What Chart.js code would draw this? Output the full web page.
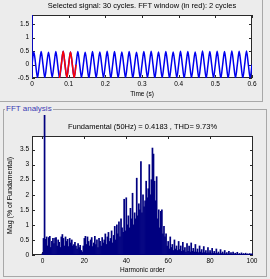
<!DOCTYPE html>
<html lang="en">
<head>
<meta charset="UTF-8">
<title>FFT analysis</title>
<script src="https://cdn.jsdelivr.net/npm/chart.js"></script>
<style>
    body { margin: 0; background: #ececec; font-family: "Liberation Sans", Arial, sans-serif; }
    #page { position: relative; width: 270px; height: 279px; overflow: hidden; }
    #topFrame { position: absolute; left: -2px; top: -2px; width: 263px; height: 102px; border: 1px solid #a8a8a8; }
    #fftFrame { position: absolute; left: 3px; top: 109px; width: 262px; height: 166px; border: 1px solid #a8a8a8; }
    #fftLabel { position: absolute; left: 5px; top: 104px; padding: 0 1px; background: #ececec; color: #3c3cb4; font-size: 8px; line-height: 10px; }
    #signalCanvas { position: absolute; left: 0; top: 0; }
    #fftCanvas { position: absolute; left: 0; top: 110px; }
</style>
</head>
<body>
<div id="page">
    <div id="topFrame"></div>
    <div id="fftFrame"></div>
    <div id="fftLabel">FFT analysis</div>
    <canvas id="signalCanvas" width="270" height="100"></canvas>
    <canvas id="fftCanvas" width="270" height="169"></canvas>
</div>

<script>
    // Signal: 30 cycles of 50 Hz, peak / trough of each cycle
    const cycleTime = 0.02;
    const peakValues = [0.47, 0.48, 0.46, 0.48, 0.49, 0.47, 0.48, 0.46, 0.48, 0.47,
                        0.49, 0.48, 0.47, 0.48, 0.46, 0.48, 0.49, 0.47, 0.48, 0.47,
                        0.49, 0.48, 0.47, 0.50, 0.48, 0.49, 0.48, 0.50, 0.49, 0.50];
    const troughValues = [-0.48, -0.49, -0.47, -0.50, -0.48, -0.49, -0.48, -0.50, -0.49, -0.48,
                          -0.50, -0.49, -0.48, -0.50, -0.49, -0.48, -0.50, -0.49, -0.50, -0.48,
                          -0.50, -0.49, -0.50, -0.50, -0.49, -0.50, -0.50, -0.49, -0.50, -0.50];
    const spikeTime = [0, 0];
    const spikeValue = [-0.5, 1.9];
    const windowStart = 0.075;   // FFT window (red)
    const windowEnd = 0.12;
    const timeTicks = [0, 0.1, 0.2, 0.3, 0.4, 0.5, 0.6];
    const signalTicks = [-0.5, 0, 0.5, 1, 1.5];

    // FFT: magnitude (% of fundamental) every half harmonic, 0 .. 100
    const fftMag = [
        0.05, 0.55, 100, 0.52, 0.60, 0.30, 0.58, 0.62, 0.25, 0.45, 0.55, 0.38, 0.56, 0.58, 0.30, 0.50, 0.42, 0.25, 0.60, 0.68,   // 0-9.5
        0.55, 0.30, 0.60, 0.45, 0.52, 0.28, 0.55, 0.40, 0.50, 0.30, 0.35, 0.42, 0.30, 0.20, 0.38, 0.25, 0.32, 0.15, 0.10, 0.30,   // 10-19.5
        0.55, 0.62, 0.35, 0.60, 0.45, 0.30, 0.50, 0.58, 0.28, 0.40, 0.62, 0.35, 0.50, 0.25, 0.55, 0.45, 0.30, 0.58, 0.40, 0.50,   // 20-29.5
        0.70, 0.35, 0.60, 0.75, 0.45, 0.55, 0.80, 0.40, 0.65, 0.95, 0.50, 1.00, 0.70, 1.10, 0.60, 1.20, 0.90, 0.75, 1.85, 0.80,   // 30-39.5
        1.90, 1.00, 1.30, 0.90, 1.55, 1.20, 2.05, 1.00, 1.40, 1.20, 2.55, 1.30, 1.70, 1.50, 3.10, 1.40, 2.00, 1.60, 1.80, 2.45,   // 40-49.5
        1.90, 2.20, 3.00, 2.00, 2.50, 3.55, 3.35, 2.45, 1.80, 2.60, 1.20, 1.50, 0.90, 1.45, 1.50, 0.70, 0.95, 0.60, 0.70, 0.30,   // 50-59.5
        0.45, 0.20, 0.60, 0.25, 0.35, 0.15, 0.50, 0.20, 0.30, 0.15, 0.45, 0.18, 0.30, 0.12, 0.42, 0.15, 0.25, 0.10, 0.38, 0.12,   // 60-69.5
        0.30, 0.10, 0.40, 0.12, 0.22, 0.10, 0.35, 0.10, 0.20, 0.08, 0.30, 0.10, 0.18, 0.07, 0.28, 0.08, 0.15, 0.06, 0.25, 0.07,   // 70-79.5
        0.15, 0.05, 0.22, 0.06, 0.12, 0.05, 0.20, 0.05, 0.10, 0.04, 0.18, 0.05, 0.10, 0.04, 0.15, 0.04, 0.08, 0.03, 0.12, 0.04,   // 80-89.5
        0.08, 0.03, 0.10, 0.03, 0.06, 0.03, 0.09, 0.02, 0.05, 0.02, 0.07, 0.02, 0.05, 0.02, 0.06, 0.02, 0.04, 0.02, 0.05, 0.02,   // 90-99.5
        0.04                                                                                                                      // 100
    ];
    const harmonicStep = 0.5;
    const harmonicTicks = [0, 20, 40, 60, 80, 100];
    const magTicks = [0, 0.5, 1, 1.5, 2, 2.5, 3, 3.5];

    const fontFamily = '"Liberation Sans", Arial, sans-serif';
    const tickFont = { family: fontFamily, size: 6.5 };
    const titleFont = { family: fontFamily, size: 7.5, weight: 'normal' };
    const noGrid = { display: false, drawTicks: false, tickLength: 0 };

    // white axes box with MATLAB style inward ticks
    const matlabAxes = {
        id: 'matlabAxes',
        beforeDraw(chart) {
            const a = chart.chartArea, c = chart.ctx;
            c.save();
            c.fillStyle = '#ffffff';
            c.fillRect(a.left, a.top, a.right - a.left, a.bottom - a.top);
            c.restore();
        },
        beforeDatasetsDraw(chart) {
            const a = chart.chartArea, c = chart.ctx;
            const xs = chart.scales.x, ys = chart.scales.y;
            c.save();
            c.strokeStyle = '#2a2a2a';
            c.lineWidth = 1;
            c.strokeRect(Math.round(a.left) + 0.5, Math.round(a.top) + 0.5,
                         Math.round(a.right - a.left) - 1, Math.round(a.bottom - a.top) - 1);
            c.beginPath();
            xs.ticks.forEach((t, i) => {
                const px = Math.round(xs.getPixelForTick(i)) + 0.5;
                c.moveTo(px, a.bottom); c.lineTo(px, a.bottom - 3);
                c.moveTo(px, a.top); c.lineTo(px, a.top + 3);
            });
            ys.ticks.forEach((t, i) => {
                const py = Math.round(ys.getPixelForTick(i)) + 0.5;
                c.moveTo(a.left, py); c.lineTo(a.left + 3, py);
                c.moveTo(a.right, py); c.lineTo(a.right - 3, py);
            });
            c.stroke();
            c.restore();
        }
    };

    // signal points: zero, peak, zero, trough for each cycle
    const signalPoints = [];
    peakValues.forEach((p, k) => {
        const t0 = k * cycleTime;
        signalPoints.push({ x: t0, y: 0 });
        signalPoints.push({ x: t0 + cycleTime / 4, y: p });
        signalPoints.push({ x: t0 + cycleTime / 2, y: 0 });
        signalPoints.push({ x: t0 + cycleTime * 3 / 4, y: troughValues[k] });
    });
    signalPoints.push({ x: peakValues.length * cycleTime, y: 0 });
    const windowPoints = signalPoints.filter(p => p.x >= windowStart - 1e-9 && p.x <= windowEnd + 1e-9);
    const spikePoints = spikeTime.map((t, i) => ({ x: t, y: spikeValue[i] }));

    new Chart(document.getElementById('signalCanvas'), {
        type: 'line',
        data: {
            datasets: [
                { data: windowPoints, borderColor: '#ff0000', borderWidth: 1.5, pointRadius: 0, cubicInterpolationMode: 'monotone', order: 0 },
                { data: signalPoints, borderColor: '#0000ee', borderWidth: 1.5, pointRadius: 0, cubicInterpolationMode: 'monotone', order: 1 },
                { data: spikePoints, borderColor: '#0000ee', borderWidth: 1.5, pointRadius: 0, tension: 0, order: 1 }
            ]
        },
        options: {
            responsive: false,
            animation: false,
            layout: { padding: { left: 0, right: 18, top: 0, bottom: 0 } },
            plugins: {
                legend: { display: false },
                tooltip: { enabled: false },
                title: {
                    display: true,
                    fullSize: false,
                    text: 'Selected signal: 30 cycles. FFT window (in red): 2 cycles',
                    color: '#000',
                    font: titleFont,
                    padding: { top: 1.5, bottom: 4.5 }
                }
            },
            scales: {
                x: {
                    type: 'linear', min: 0, max: 0.6, offset: false,
                    afterBuildTicks: s => { s.ticks = timeTicks.map(v => ({ value: v })); },
                    afterFit: s => { s.height = 22; },
                    grid: noGrid,
                    border: { display: false },
                    ticks: { font: tickFont, color: '#000', padding: 2.5, maxRotation: 0, autoSkip: false, callback: v => String(v) },
                    title: { display: true, text: 'Time (s)', color: '#000', font: tickFont, padding: { top: 0, bottom: 1.8 } }
                },
                y: {
                    min: -0.5, max: 1.84,
                    afterBuildTicks: s => { s.ticks = signalTicks.map(v => ({ value: v })); },
                    afterFit: s => { s.width = 32; },
                    grid: noGrid,
                    border: { display: false },
                    ticks: { font: tickFont, color: '#000', padding: 3, callback: v => String(v) }
                }
            }
        },
        plugins: [matlabAxes]
    });

    const fftPoints = fftMag.map((m, i) => ({ x: i * harmonicStep, y: m }));

    new Chart(document.getElementById('fftCanvas'), {
        type: 'bar',
        data: {
            datasets: [{
                data: fftPoints,
                backgroundColor: '#000080',
                borderWidth: 0,
                barPercentage: 1,
                categoryPercentage: 1,
                clip: { left: 0, top: 21, right: 0, bottom: 0 }
            }]
        },
        options: {
            responsive: false,
            animation: false,
            layout: { padding: { left: 0, right: 17, top: 0, bottom: 0 } },
            plugins: {
                legend: { display: false },
                tooltip: { enabled: false },
                title: {
                    display: true,
                    fullSize: false,
                    text: 'Fundamental (50Hz) = 0.4183 , THD= 9.73%',
                    color: '#000',
                    font: titleFont,
                    padding: { top: 12.5, bottom: 4.5 }
                }
            },
            scales: {
                x: {
                    type: 'linear', min: -5, max: 100.5, offset: false,
                    afterBuildTicks: s => { s.ticks = harmonicTicks.map(v => ({ value: v })); },
                    afterFit: s => { s.height = 24; },
                    grid: noGrid,
                    border: { display: false },
                    ticks: { font: tickFont, color: '#000', padding: 2.8, maxRotation: 0, autoSkip: false },
                    title: { display: true, text: 'Harmonic order', color: '#000', font: tickFont, padding: { top: 0, bottom: 4.4 } }
                },
                y: {
                    min: 0, max: 3.95,
                    afterBuildTicks: s => { s.ticks = magTicks.map(v => ({ value: v })); },
                    afterFit: s => { s.width = 32; },
                    grid: noGrid,
                    border: { display: false },
                    ticks: { font: tickFont, color: '#000', padding: 3, callback: v => String(v) },
                    title: { display: true, text: 'Mag (% of Fundamental)', color: '#000', font: { family: fontFamily, size: 7 }, padding: { top: 6, bottom: 0 } }
                }
            }
        },
        plugins: [matlabAxes]
    });
</script>
</body>
</html>
